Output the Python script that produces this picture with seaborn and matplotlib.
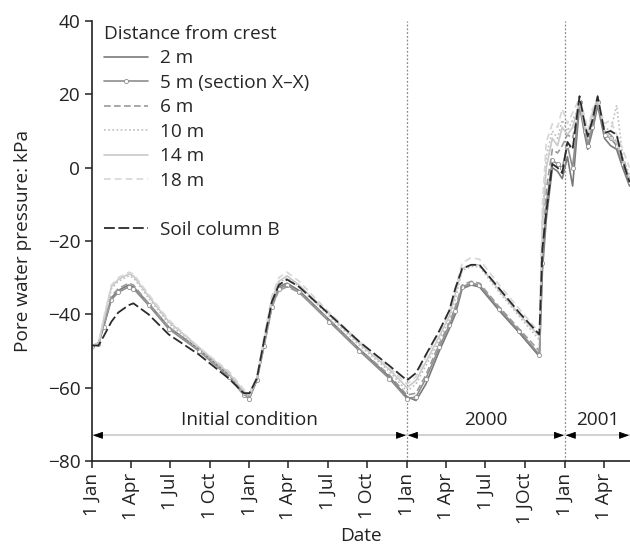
import matplotlib
matplotlib.use("Agg")
import matplotlib.pyplot as plt
import seaborn as sns
import pandas as pd
from matplotlib.lines import Line2D

# Observation dates (two-year initial-condition spin-up, then 2000 and 2001)
dates = [
    "1998-01-01", "1998-01-16", "1998-01-28", "1998-02-15", "1998-03-03",
    "1998-03-27", "1998-04-07", "1998-05-12", "1998-06-28", "1998-09-06",
    "1998-11-14", "1998-12-19", "1999-01-01", "1999-01-18", "1999-02-04",
    "1999-02-22", "1999-03-10", "1999-03-29", "1999-04-26", "1999-07-05",
    "1999-09-13", "1999-11-21", "2000-01-01", "2000-01-22", "2000-02-14",
    "2000-03-16", "2000-04-08", "2000-04-22", "2000-05-08", "2000-05-29",
    "2000-06-17", "2000-08-02", "2000-09-17", "2000-11-03", "2000-11-10",
    "2000-11-19", "2000-12-03", "2000-12-15", "2000-12-26", "2001-01-07",
    "2001-01-19", "2001-02-04", "2001-02-16", "2001-02-23", "2001-03-06",
    "2001-03-18", "2001-04-03", "2001-04-17", "2001-05-01", "2001-05-15",
    "2001-05-31",
]

# Pore water pressure (kPa) by distance from crest
pwp_2m = [
    -48.5, -48, -43, -35.5, -33.5, -32, -32.5, -37, -43.5, -49.5, -56.5, -61.5, -62.5,
    -58, -48, -37.5, -32.5, -31.5, -33.5, -41.5, -49.5, -57, -62.5,
    -63.5, -59, -50, -44, -40, -33, -32, -32.5, -39, -45, -51.5,
    -28, -14, 0, -1, -3, 3, -5, 17, 9, 5, 10, 17, 8, 6, 5, 0, -5,
]
pwp_5m = [
    -48.5, -48, -43.5, -36, -34, -32.5, -33, -37.5, -44, -50, -57, -62, -63,
    -58, -48.5, -38, -33, -32, -34, -42, -50, -57.5, -63,
    -62.5, -57.5, -49, -43, -39, -32.5, -31.5, -32, -38.5, -44.5, -51,
    -26, -10, 2, 1, 0, 6, 0, 18, 10, 6, 11, 18, 9, 8, 6, 1, -4,
]
pwp_6m = [
    -48.5, -48.2, -43, -35, -33, -31.5, -32, -37, -43.5, -50, -57, -62, -62.5,
    -58, -48.5, -38, -33.5, -32.5, -34, -41.5, -49.5, -56.5, -62,
    -61.5, -56.5, -48, -42.5, -38, -32, -31, -31.5, -38, -44, -50,
    -24, -6, 5, 4, 6, 9, 8, 17.5, 11, 7, 12, 18, 10, 9, 7, 2, -3,
]
pwp_10m = [
    -48.5, -48, -42, -33, -31, -29.5, -30, -35.5, -42.5, -49.5, -56.5, -61.5, -62.5,
    -58, -48, -37, -31.5, -30, -32.5, -40.5, -48.5, -55.5, -61,
    -59, -54, -47, -41.5, -36, -28, -27, -27, -34, -40.5, -47,
    -14, 3, 10, 8, 13, 10, 13, 17, 12, 9, 14, 18, 11, 10, 17, 3, -2,
]
pwp_14m = [
    -48.5, -48, -41.5, -32.5, -30.5, -29, -29.5, -35, -42, -49, -56, -61, -62,
    -57.5, -47, -36, -31, -29.5, -32, -40, -48, -55, -60,
    -58, -53, -46, -40.5, -34.5, -27.5, -26.5, -26.5, -33.5, -40, -46,
    -15, 0, 8, 6, 11, 9, 11, 18, 11, 8, 15, 19, 10, 8, 7, 2, -3,
]
pwp_18m = [
    -48.5, -48, -41, -32, -30, -28.5, -29, -34.5, -41.5, -49, -55.5, -60.5, -61.5,
    -57, -46, -35, -30, -28.5, -31, -39.5, -47.5, -54.5, -59,
    -57, -51.5, -45, -39.5, -33, -26, -24.5, -25, -32, -38.5, -45,
    -10, 7, 12, 11, 16, 12, 15, 19, 14, 10, 16, 18, 12, 13, 9, 5, 0,
]
pwp_soil_b = [
    -48.5, -48.5, -46, -42, -39.5, -37.5, -37, -40, -45.5, -51, -57.5, -61.5, -61.5,
    -57.5, -47, -36.5, -32, -30.5, -32.5, -40, -47.5, -54, -58,
    -56, -51, -44.5, -39, -33, -27.5, -26.5, -26.5, -33, -39.5, -45.5,
    -22, -12, 1, 0, -1.5, 7, 5, 19.5, 12, 8.5, 13, 19.5, 9.5, 10, 9, 2, -4,
]

tick_dates = [
    "1998-01-01", "1998-04-01", "1998-07-01", "1998-10-01",
    "1999-01-01", "1999-04-01", "1999-07-01", "1999-10-01",
    "2000-01-01", "2000-04-01", "2000-07-01", "2000-10-01",
    "2001-01-01", "2001-04-01",
]
tick_labels = [
    "1 Jan", "1 Apr", "1 Jul", "1 Oct",
    "1 Jan", "1 Apr", "1 Jul", "1 Oct",
    "1 Jan", "1 Apr", "1 Jul", "1 JOct",
    "1 Jan", "1 Apr",
]
period_names = ["Initial condition", "2000", "2001"]
period_bounds = ["1998-01-01", "2000-01-01", "2001-01-01", "2001-06-01"]

sns.set_theme(style="ticks")
plt.rcParams["font.family"] = ["Open Sans", "DejaVu Sans"]
plt.rcParams["axes.unicode_minus"] = True

FS = 13.7
TXT = "#222222"
fig = plt.figure(figsize=(6.3, 5.45), dpi=100)
ax = fig.add_axes([92 / 630, 1 - 461 / 545, 538 / 630, 440 / 545])

x = pd.to_datetime(dates)
series = [
    ("2 m", pwp_2m, dict(color="#7a7a7a", linestyle="-")),
    ("5 m (section X–X)", pwp_5m, dict(color="#8e8e8e", linestyle="-", marker="o",
                                      markersize=3, markerfacecolor="white",
                                      markeredgecolor="#8e8e8e", markeredgewidth=0.6)),
    ("6 m", pwp_6m, dict(color="#9a9a9a", linestyle=(0, (4, 2)))),
    ("10 m", pwp_10m, dict(color="#bdbdbd", linestyle=(0, (1, 1.5)))),
    ("14 m", pwp_14m, dict(color="#c9c9c9", linestyle="-")),
    ("18 m", pwp_18m, dict(color="#d6d6d6", linestyle=(0, (4, 2.5)))),
]
for label, vals, style in series:
    sns.lineplot(x=x, y=vals, ax=ax, linewidth=1.2, label=label, sort=False, **style)

sns.lineplot(x=x, y=pwp_soil_b, ax=ax, linewidth=1.3, color="#2b2b2b",
             linestyle=(0, (6, 2)), label="Soil column B", sort=False)

# Year boundaries
for d in period_bounds[1:3]:
    ax.axvline(pd.Timestamp(d), color="#8a8a8a", linestyle=(0, (1.5, 1.5)),
               linewidth=0.9, zorder=0)

# Period spans: light grey rule with black arrowheads at each end
arrow_y = -73
ax.hlines(arrow_y, pd.Timestamp(period_bounds[0]), pd.Timestamp(period_bounds[-1]),
          color="#d2d2d2", linewidth=1.5, zorder=1)
head = dict(arrowstyle="-|>,head_length=0.5,head_width=0.18", color="black",
            lw=0.6, shrinkA=0, shrinkB=0)
for name, a, b in zip(period_names, period_bounds[:-1], period_bounds[1:]):
    ta, tb = pd.Timestamp(a), pd.Timestamp(b)
    ax.annotate("", xy=(ta + pd.Timedelta(days=2), arrow_y), xytext=(7, 0),
                textcoords="offset points", arrowprops=head)
    ax.annotate("", xy=(tb - pd.Timedelta(days=2), arrow_y), xytext=(-7, 0),
                textcoords="offset points", arrowprops=head)
    mid = ta + (tb - ta) / 2
    ax.text(mid, arrow_y + 1.6, name, ha="center", va="bottom", fontsize=FS,
            color=TXT)

ax.set_ylim(-80, 40)
ax.set_xlim(pd.Timestamp("1998-01-01"), pd.Timestamp(period_bounds[-1]))
ax.set_yticks(range(-80, 41, 20))
ax.set_xticks(pd.to_datetime(tick_dates))
ax.set_xticklabels(tick_labels, rotation=90)
ax.tick_params(axis="both", labelsize=FS, direction="out", length=5, width=1.1,
               colors=TXT)
ax.set_xlabel("Date", fontsize=FS, color=TXT, labelpad=2)
ax.set_ylabel("Pore water pressure: kPa", fontsize=FS, color=TXT, labelpad=11)
sns.despine(ax=ax)
for s in ("left", "bottom"):
    ax.spines[s].set_linewidth(1.2)
    ax.spines[s].set_color(TXT)

# Legend with a blank row before the soil column entry
handles, labels = ax.get_legend_handles_labels()
blank = Line2D([], [], linestyle="none")
handles = handles[:6] + [blank] + handles[6:]
labels = labels[:6] + [""] + labels[6:]
ax.legend(handles, labels, title="Distance from crest", loc="upper left",
          bbox_to_anchor=(-0.01, 1.03), frameon=False, fontsize=FS,
          title_fontsize=FS, handlelength=2.3, handletextpad=0.65,
          labelspacing=0.34, borderpad=0.4, alignment="left")

fig.savefig("out.png", dpi=100)
